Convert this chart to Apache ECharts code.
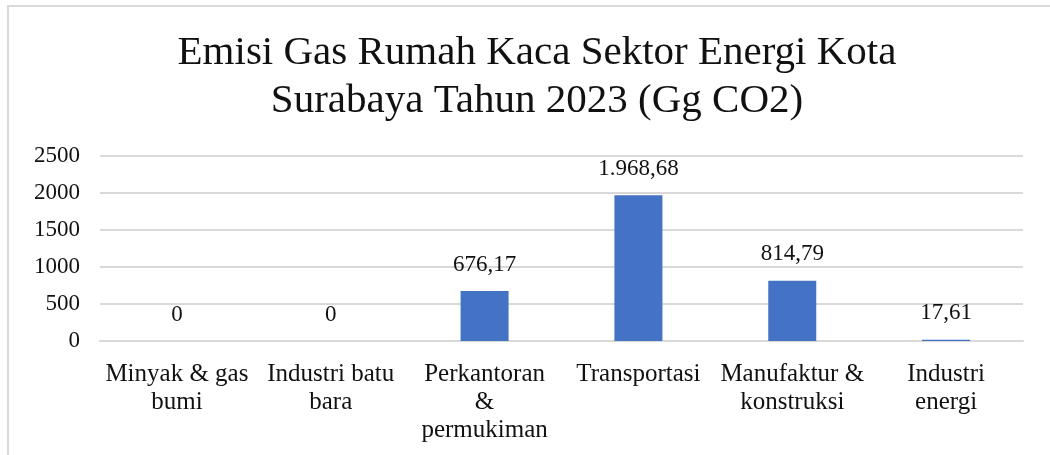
<!DOCTYPE html>
<html>
<head>
<meta charset="utf-8">
<script src="https://cdn.jsdelivr.net/npm/echarts@6/dist/echarts.min.js"></script>
<style>
  html, body { margin: 0; padding: 0; background: #fff; }
  #chart { width: 1050px; height: 455px; }
</style>
</head>
<body>
<div id="chart"></div>
<script>
// data
var categories = [
  "Minyak & gas\nbumi",
  "Industri batu\nbara",
  "Perkantoran\n&\npermukiman",
  "Transportasi",
  "Manufaktur &\nkonstruksi",
  "Industri\nenergi"
];
var emisi = [0, 0, 676.17, 1968.68, 814.79, 17.61];

var serif = "'Liberation Serif', 'DejaVu Serif', serif";

// 1968.68 -> "1.968,68"
function fmtId(v) {
  if (v === 0) return "0";
  var parts = v.toFixed(2).split(".");
  var intPart = parts[0].replace(/\B(?=(\d{3})+(?!\d))/g, ".");
  return intPart + "," + parts[1];
}

var chart = echarts.init(document.getElementById("chart"));
var option = {
  animation: false,
  title: {
    text: "Emisi Gas Rumah Kaca Sektor Energi Kota\nSurabaya Tahun 2023 (Gg CO2)",
    left: 532,
    textAlign: "center",
    top: 24,
    textStyle: {
      fontFamily: serif,
      fontSize: 41,
      fontWeight: "normal",
      lineHeight: 48,
      color: "#111"
    }
  },
  graphic: [
    {
      type: "rect",
      shape: { x: 8, y: 6, width: 1100, height: 500 },
      style: { fill: "none", stroke: "#d9d9d9", lineWidth: 2 }
    }
  ],
  grid: { left: 100, right: 27, top: 156, bottom: 114 },
  xAxis: {
    type: "category",
    data: categories,
    axisTick: { show: false },
    axisLine: { lineStyle: { color: "#d9d9d9", width: 2 } },
    axisLabel: {
      interval: 0,
      margin: 19,
      fontFamily: serif,
      fontSize: 25,
      lineHeight: 28,
      color: "#111"
    }
  },
  yAxis: {
    type: "value",
    min: 0,
    max: 2500,
    interval: 500,
    axisLine: { show: false },
    axisTick: { show: false },
    splitLine: { lineStyle: { color: "#d9d9d9", width: 2 } },
    axisLabel: {
      margin: 20,
      fontFamily: serif,
      fontSize: 23,
      color: "#111",
      formatter: function (v) { return String(v); }
    }
  },
  series: [
    {
      type: "bar",
      data: emisi,
      barWidth: 48,
      itemStyle: { color: "#4472c4" },
      label: {
        show: true,
        position: "top",
        distance: 15,
        fontFamily: serif,
        fontSize: 23,
        color: "#111",
        formatter: function (p) { return fmtId(p.value); }
      }
    }
  ]
};
chart.setOption(option);
</script>
</body>
</html>
